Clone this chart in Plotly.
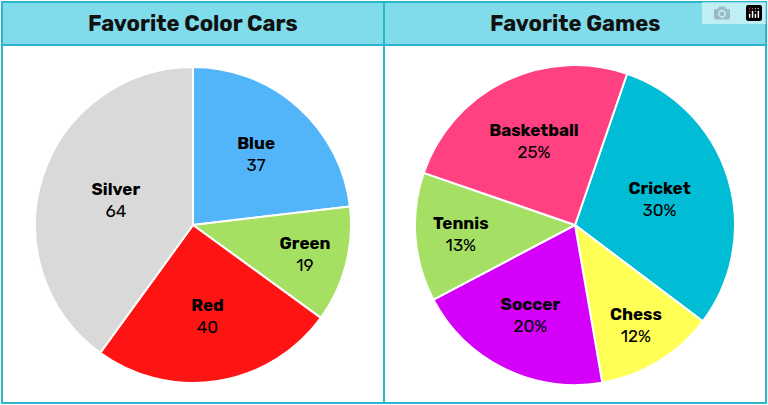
import plotly.graph_objects as go

car_labels = ["Blue", "Green", "Red", "Silver"]
car_values = [37, 19, 40, 64]
car_colors = ["#52b5f9", "#a6e062", "#ff1414", "#d9d9d9"]

game_labels = ["Cricket", "Chess", "Soccer", "Tennis", "Basketball"]
game_values = [30, 12, 20, 13, 25]
game_colors = ["#00bcd4", "#ffff55", "#d500f9", "#a5e065", "#ff4081"]

W, H = 768, 405
def px(x): return x / W
def py(y): return 1 - y / H

car_text = [f"<b>{l}</b><br>{v}" for l, v in zip(car_labels, car_values)]
game_text = [f"<b>{l}</b><br>{v}%" for l, v in zip(game_labels, game_values)]

fig = go.Figure()
fig.add_trace(go.Pie(values=car_values, labels=car_labels, text=car_text, textinfo="text",
                     sort=False, direction="clockwise", rotation=0,
                     marker=dict(colors=car_colors, line=dict(color="white", width=2)),
                     textposition="inside", insidetextorientation="horizontal",
                     textfont=dict(size=17, color="black", family="Rubik, Lato, sans-serif"),
                     domain=dict(x=[px(35), px(351)], y=[py(383), py(67)]), showlegend=False, hoverinfo="skip"))
fig.add_trace(go.Pie(values=game_values, labels=game_labels, text=game_text, textinfo="text",
                     sort=False, direction="clockwise", rotation=19,
                     marker=dict(colors=game_colors, line=dict(color="white", width=2)),
                     textposition="inside", insidetextorientation="horizontal",
                     textfont=dict(size=17, color="black", family="Rubik, Lato, sans-serif"),
                     domain=dict(x=[px(415), px(735)], y=[py(385), py(65)]), showlegend=False, hoverinfo="skip"))

shapes = []
for x0, x1 in [(2, 384), (384, 766)]:
    shapes.append(dict(type="rect", xref="paper", yref="paper", x0=px(x0), x1=px(x1), y0=py(2), y1=py(45),
                       fillcolor="#80dcea", line=dict(color="#2bb6ce", width=2), layer="below"))
    shapes.append(dict(type="rect", xref="paper", yref="paper", x0=px(x0), x1=px(x1), y0=py(403), y1=py(2),
                       fillcolor="rgba(0,0,0,0)", line=dict(color="#2bb6ce", width=2), layer="below"))
anns = [dict(text="<b>Favorite Color Cars</b>", x=px(193), y=py(23), xref="paper", yref="paper", showarrow=False,
             xanchor="center", yanchor="middle",
             font=dict(size=22, color="#111", family="Rubik, Lato, sans-serif")),
        dict(text="<b>Favorite Games</b>", x=px(575), y=py(23), xref="paper", yref="paper", showarrow=False,
             xanchor="center", yanchor="middle",
             font=dict(size=22, color="#111", family="Rubik, Lato, sans-serif"))]

fig.update_layout(width=W, height=H, margin=dict(l=0, r=0, t=0, b=0), paper_bgcolor="white",
                  shapes=shapes, annotations=anns)
fig.write_html("out.html", post_script="document.body.style.margin='0';document.body.style.overflow='hidden';")
